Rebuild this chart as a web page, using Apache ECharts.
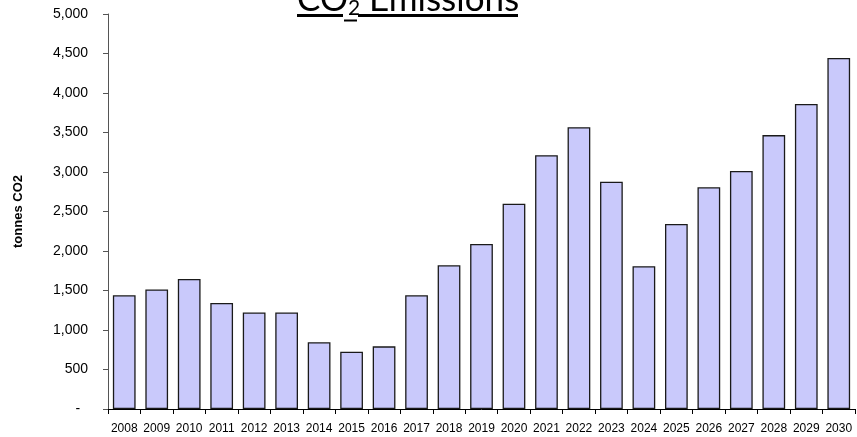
<!DOCTYPE html>
<html>
<head>
<meta charset="utf-8">
<script src="https://cdn.jsdelivr.net/npm/echarts@6/dist/echarts.min.js"></script>
<style>
html,body{margin:0;padding:0;background:#fff;}
#chart{width:857px;height:437px;}
</style>
</head>
<body>
<div id="chart"></div>
<script>
const years = ['2008','2009','2010','2011','2012','2013','2014','2015','2016','2017','2018','2019','2020','2021','2022','2023','2024','2025','2026','2027','2028','2029','2030'];
const emissions = [1440, 1513, 1647, 1343, 1221, 1221, 844, 726, 793, 1440, 1819, 2088, 2599, 3213, 3568, 2878, 1808, 2341, 2807, 3014, 3467, 3860, 4444];
const yTicks = [0, 500, 1000, 1500, 2000, 2500, 3000, 3500, 4000, 4500, 5000];
const yAxisTitle = 'tonnes CO2';

const chart = echarts.init(document.getElementById('chart'), null, {renderer: 'canvas'});

function fmt(v) {
  if (v === 0) return '-  ';
  return String(v).replace(/\B(?=(\d{3})+(?!\d))/g, ',');
}

chart.setOption({
  animation: false,
  backgroundColor: '#fff',
  title: {
    left: 297,
    top: -19,
    padding: 0,
    text: '{a|CO}{b|2}{a| Emissions}',
    textStyle: {
      fontWeight: 'normal',
      rich: {
        a: {fontFamily: 'Lato', fontSize: 35, fontWeight: 'normal', lineHeight: 38, color: '#000'},
        b: {fontFamily: 'Lato', fontSize: 21, fontWeight: 'normal', lineHeight: 16, color: '#000', verticalAlign: 'bottom'}
      }
    }
  },
  graphic: [
    {type: 'rect', shape: {x: 297, y: 14, width: 46, height: 3}, style: {fill: '#000'}, silent: true},
    {type: 'rect', shape: {x: 344, y: 19.5, width: 13, height: 2}, style: {fill: '#000'}, silent: true},
    {type: 'rect', shape: {x: 358, y: 14, width: 160, height: 3}, style: {fill: '#000'}, silent: true}
  ],
  grid: {left: 108, right: 2, top: 14, bottom: 28, containLabel: false},
  xAxis: {
    type: 'category',
    data: years,
    axisLine: {show: true, lineStyle: {color: '#000', width: 1}},
    axisTick: {show: true, alignWithLabel: false, interval: 0, length: 5, lineStyle: {color: '#000'}},
    axisLabel: {interval: 0, margin: 14, fontFamily: 'Liberation Sans', fontSize: 12, color: '#000'},
    splitLine: {show: false}
  },
  yAxis: {
    type: 'value',
    min: yTicks[0],
    max: yTicks[yTicks.length - 1],
    interval: yTicks[1] - yTicks[0],
    name: yAxisTitle,
    nameLocation: 'middle',
    nameGap: 83,
    nameTextStyle: {fontFamily: 'Liberation Sans', fontSize: 13, fontWeight: 'bold', color: '#000'},
    axisLine: {show: true, lineStyle: {color: '#555', width: 1}},
    axisTick: {show: true, inside: false, length: 5, lineStyle: {color: '#555'}},
    axisLabel: {margin: 20, fontFamily: 'Liberation Sans', fontSize: 14, color: '#000', formatter: fmt},
    splitLine: {show: false}
  },
  series: [{
    type: 'bar',
    data: emissions,
    barCategoryGap: '30%',
    itemStyle: {color: '#c9c9fb', borderColor: '#1a1a1a', borderWidth: 1.3}
  }]
});
</script>
</body>
</html>
